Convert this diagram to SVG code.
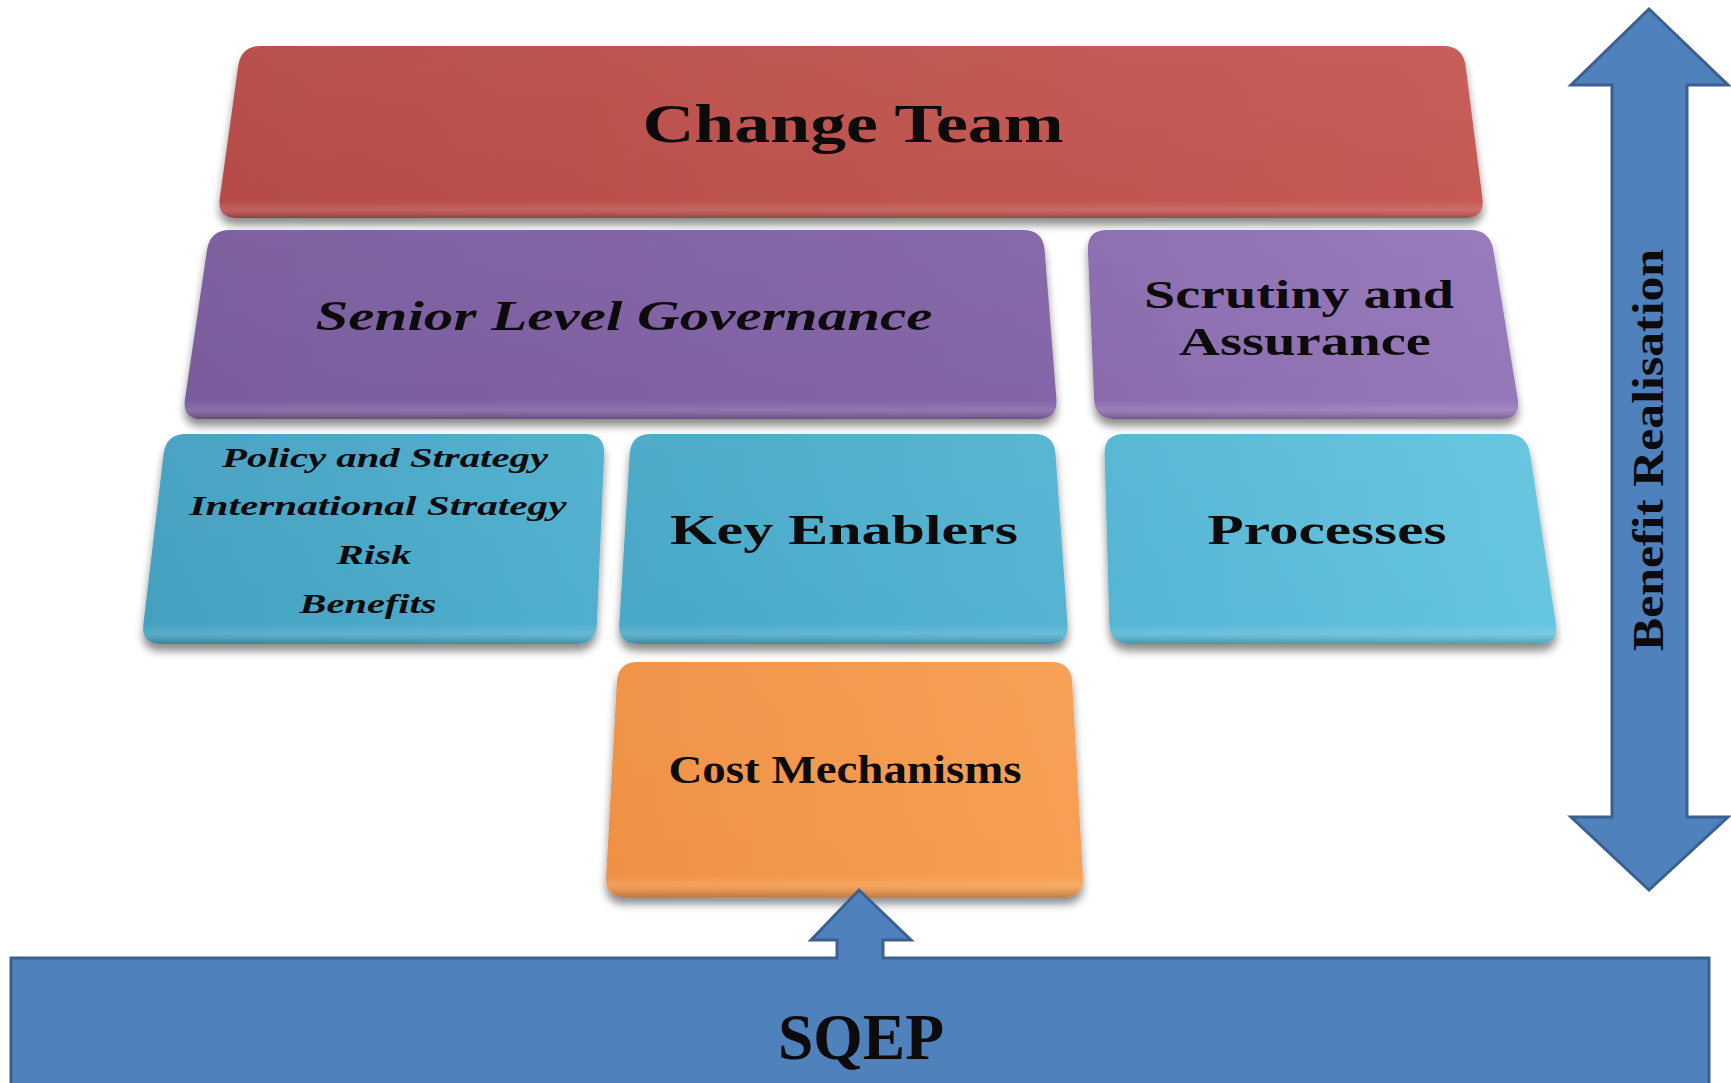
<svg xmlns="http://www.w3.org/2000/svg" xmlns:xlink="http://www.w3.org/1999/xlink" width="1731" height="1083" viewBox="0 0 1731 1083">
<defs>
<style>
.lbl{font-family:"Liberation Serif","Times New Roman",serif;font-weight:bold;fill:#0d0a0c;text-anchor:middle}
.it{font-style:italic}
.bevel{fill:url(#bevel)}
.blue{fill:#4f81bd;stroke:#3b6090;stroke-width:3;stroke-linejoin:miter}
</style>
<filter id="shadow" x="-5%" y="-10%" width="110%" height="130%">
<feGaussianBlur in="SourceAlpha" stdDeviation="4"/>
<feOffset dx="0" dy="7" result="b"/>
<feFlood flood-color="#000" flood-opacity="0.45"/>
<feComposite in2="b" operator="in"/>
<feMerge><feMergeNode/><feMergeNode in="SourceGraphic"/></feMerge>
</filter>
<linearGradient id="bevel" x1="0" y1="0" x2="0" y2="1">
<stop offset="0" stop-color="#fff" stop-opacity="0.03"/>
<stop offset="0.9" stop-color="#fff" stop-opacity="0"/>
<stop offset="0.95" stop-color="#fff" stop-opacity="0.12"/>
<stop offset="1" stop-color="#000" stop-opacity="0.2"/>
</linearGradient>
<linearGradient id="gRed" x1="0" y1="0" x2="1" y2="0">
<stop offset="0" stop-color="#b64c48"/><stop offset="1" stop-color="#c65a55"/>
</linearGradient>
<linearGradient id="gPur" x1="0" y1="0" x2="1" y2="0">
<stop offset="0" stop-color="#7a5c9d"/><stop offset="1" stop-color="#8466a8"/>
</linearGradient>
<linearGradient id="gPur2" x1="0" y1="0" x2="1" y2="0">
<stop offset="0" stop-color="#8a6cae"/><stop offset="1" stop-color="#9578ba"/>
</linearGradient>
<linearGradient id="gTeal1" x1="0" y1="0" x2="1" y2="0">
<stop offset="0" stop-color="#44a0c0"/><stop offset="1" stop-color="#51b0ce"/>
</linearGradient>
<linearGradient id="gTeal2" x1="0" y1="0" x2="1" y2="0">
<stop offset="0" stop-color="#48a8c6"/><stop offset="1" stop-color="#55b4d2"/>
</linearGradient>
<linearGradient id="gTeal3" x1="0" y1="0" x2="1" y2="0">
<stop offset="0" stop-color="#55b5d3"/><stop offset="1" stop-color="#66c5e0"/>
</linearGradient>
<linearGradient id="gOr" x1="0" y1="0" x2="1" y2="0">
<stop offset="0" stop-color="#ef9144"/><stop offset="1" stop-color="#f79f52"/>
</linearGradient>
</defs>
<rect width="1731" height="1083" fill="#fff"/>

<g id="change-team">
<path filter="url(#shadow)" fill="url(#gRed)" d="M261,46 H1443 Q1463,46 1465.6,66 L1482.4,198 Q1485,218 1465,218 H237 Q217,218 219.8,198 L238.2,66 Q241,46 261,46 Z"/>
<path class="bevel" d="M261,46 H1443 Q1463,46 1465.6,66 L1482.4,198 Q1485,218 1465,218 H237 Q217,218 219.8,198 L238.2,66 Q241,46 261,46 Z"/>
<text class="lbl" x="853" y="142" font-size="54" textLength="421" lengthAdjust="spacingAndGlyphs">Change Team</text>
</g>

<g id="senior-level-governance">
<path filter="url(#shadow)" fill="url(#gPur)" d="M230,230 H1023 Q1043,230 1044.6,250 L1056.4,399 Q1058,419 1038,419 H202 Q182,419 185,399 L207,250 Q210,230 230,230 Z"/>
<path class="bevel" d="M230,230 H1023 Q1043,230 1044.6,250 L1056.4,399 Q1058,419 1038,419 H202 Q182,419 185,399 L207,250 Q210,230 230,230 Z"/>
<text class="lbl it" x="624" y="330" font-size="43" textLength="617" lengthAdjust="spacingAndGlyphs">Senior Level Governance</text>
</g>

<g id="scrutiny-and-assurance">
<path filter="url(#shadow)" fill="url(#gPur2)" d="M1107,230 H1470 Q1490,230 1493.3,250 L1517.7,399 Q1521,419 1501,419 H1115 Q1095,419 1094.1,399 L1087.9,250 Q1087,230 1107,230 Z"/>
<path class="bevel" d="M1107,230 H1470 Q1490,230 1493.3,250 L1517.7,399 Q1521,419 1501,419 H1115 Q1095,419 1094.1,399 L1087.9,250 Q1087,230 1107,230 Z"/>
<text class="lbl" x="1299" y="308" font-size="41" textLength="310" lengthAdjust="spacingAndGlyphs">Scrutiny and</text>
<text class="lbl" x="1305" y="355" font-size="41" textLength="252" lengthAdjust="spacingAndGlyphs">Assurance</text>
</g>

<g id="policy-strategy-risk-benefits">
<path filter="url(#shadow)" fill="url(#gTeal1)" d="M186,434 H585 Q605,434 604.1,454 L596.9,624 Q596,644 576,644 H161 Q141,644 143.4,624 L163.6,454 Q166,434 186,434 Z"/>
<path class="bevel" d="M186,434 H585 Q605,434 604.1,454 L596.9,624 Q596,644 576,644 H161 Q141,644 143.4,624 L163.6,454 Q166,434 186,434 Z"/>
<text class="lbl it" x="385" y="467" font-size="27" textLength="326" lengthAdjust="spacingAndGlyphs">Policy and Strategy</text>
<text class="lbl it" x="378" y="515" font-size="27" textLength="377" lengthAdjust="spacingAndGlyphs">International Strategy</text>
<text class="lbl it" x="374" y="564" font-size="27" textLength="75" lengthAdjust="spacingAndGlyphs">Risk</text>
<text class="lbl it" x="368" y="613" font-size="27" textLength="137" lengthAdjust="spacingAndGlyphs">Benefits</text>
</g>

<g id="key-enablers">
<path filter="url(#shadow)" fill="url(#gTeal2)" d="M651,434 H1034 Q1054,434 1055.5,454 L1067.5,624 Q1069,644 1049,644 H638 Q618,644 619.3,624 L629.7,454 Q631,434 651,434 Z"/>
<path class="bevel" d="M651,434 H1034 Q1054,434 1055.5,454 L1067.5,624 Q1069,644 1049,644 H638 Q618,644 619.3,624 L629.7,454 Q631,434 651,434 Z"/>
<text class="lbl" x="844" y="544" font-size="42" textLength="348" lengthAdjust="spacingAndGlyphs">Key Enablers</text>
</g>

<g id="processes">
<path filter="url(#shadow)" fill="url(#gTeal3)" d="M1124,434 H1507 Q1527,434 1530.1,454 L1555.9,624 Q1559,644 1539,644 H1130 Q1110,644 1109.4,624 L1104.6,454 Q1104,434 1124,434 Z"/>
<path class="bevel" d="M1124,434 H1507 Q1527,434 1530.1,454 L1555.9,624 Q1559,644 1539,644 H1130 Q1110,644 1109.4,624 L1104.6,454 Q1104,434 1124,434 Z"/>
<text class="lbl" x="1327" y="544" font-size="43" textLength="239" lengthAdjust="spacingAndGlyphs">Processes</text>
</g>

<g id="cost-mechanisms">
<path filter="url(#shadow)" fill="url(#gOr)" d="M638,662 H1051 Q1071,662 1072.1,682 L1082.9,877 Q1084,897 1064,897 H625 Q605,897 606.1,877 L616.9,682 Q618,662 638,662 Z"/>
<path class="bevel" d="M638,662 H1051 Q1071,662 1072.1,682 L1082.9,877 Q1084,897 1064,897 H625 Q605,897 606.1,877 L616.9,682 Q618,662 638,662 Z"/>
<text class="lbl" x="845" y="783" font-size="40" textLength="353" lengthAdjust="spacingAndGlyphs">Cost Mechanisms</text>
</g>

<g id="sqep">
<path class="blue" d="M11,1090 V958 H837 V940 H811 L859,890 L911,940 H883 V958 H1709 V1090 Z"/>
<text class="lbl" x="861" y="1059" font-size="65" textLength="166" lengthAdjust="spacingAndGlyphs">SQEP</text>
</g>

<g id="benefit-realisation">
<path class="blue" d="M1649,9 L1728,85 H1687 V817 H1728 L1649,890 L1571,817 H1612 V85 H1571 Z"/>
<text class="lbl" transform="translate(1663,450) rotate(-90)" x="0" y="0" font-size="45" textLength="402" lengthAdjust="spacingAndGlyphs">Benefit Realisation</text>
</g>

<g id="connectors"></g>
</svg>
